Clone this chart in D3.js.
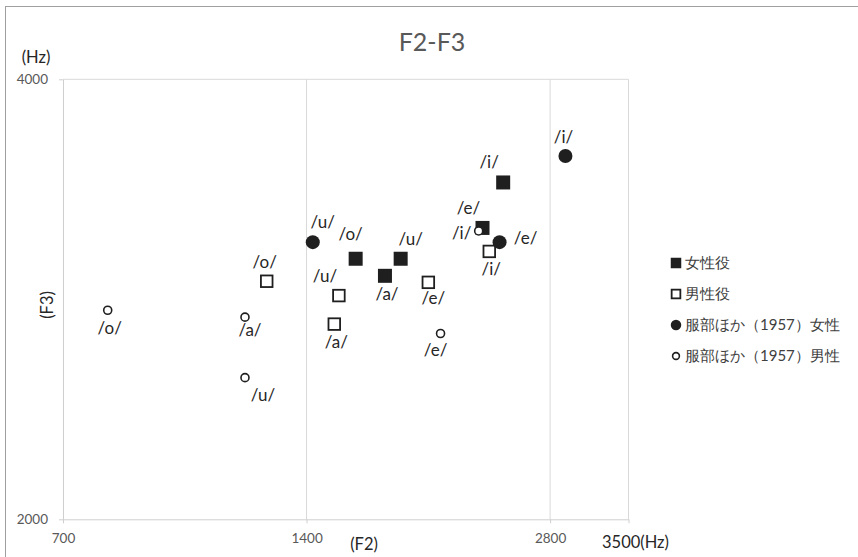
<!DOCTYPE html>
<html>
<head>
<meta charset="utf-8">
<script src="https://cdn.jsdelivr.net/npm/d3@7"></script>
<style>
  body { margin: 0; background: #fff; }
  text { font-family: Lato, "Noto Sans", sans-serif; }
  .axis path, .axis line { stroke: #cfcfcf; }
  .axis text { fill: #595959; font-size: 13.5px; }
</style>
</head>
<body>
<script>
// data (Hz)
const seriesNames = ['女性役', '男性役', '服部ほか（1957）女性', '服部ほか（1957）男性'];

const femaleRoleVowels = ['/i/', '/e/', '/u/', '/o/', '/a/'];
const femaleRoleF2 = [2450, 2310, 1830, 1610, 1750];
const femaleRoleF3 = [3400, 3165, 3015, 3015, 2935];
const femaleRoleLabelPos = ['aboveLeft', 'aboveLeft', 'aboveRight', 'aboveHigh', 'below'];

const maleRoleVowels = ['/i/', '/e/', '/u/', '/a/', '/o/'];
const maleRoleF2 = [2355, 1980, 1535, 1515, 1250];
const maleRoleF3 = [3050, 2905, 2845, 2720, 2910];
const maleRoleLabelPos = ['below', 'belowR', 'aboveLeft', 'below', 'above'];

const hattoriFemaleVowels = ['/i/', '/e/', '/u/'];
const hattoriFemaleF2 = [2925, 2425, 1425];
const hattoriFemaleF3 = [3545, 3095, 3095];
const hattoriFemaleLabelPos = ['above', 'right', 'aboveRight'];

const hattoriMaleVowels = ['/i/', '/e/', '/a/', '/o/', '/u/'];
const hattoriMaleF2 = [2285, 2050, 1175, 795, 1175];
const hattoriMaleF3 = [3150, 2680, 2750, 2780, 2500];
const hattoriMaleLabelPos = ['left', 'belowL', 'belowNear', 'below', 'belowRight'];

const xTicks = [700, 1400, 2800, 3500];
const yTicks = [2000, 4000];

const margin = { top: 79.3, left: 63, right: 229.5, bottom: 37.7 };
const W = 858, H = 557;
const width = W - margin.left - margin.right;
const height = H - margin.top - margin.bottom;

const labelOffsets = {
    above: [-2, -19],
    aboveHigh: [-5, -25],
    below: [2, 18],
    belowR: [5, 16],
    belowL: [-5, 17],
    left: [-17, 2],
    right: [26, -4],
    aboveLeft: [-14, -20],
    aboveRight: [10, -20],
    belowRight: [18, 17],
    belowNear: [5, 13]
};

function zipSeries(vowels, f2, f3, pos) {
    return vowels.map((v, i) => ({ vowel: v, f2: f2[i], f3: f3[i], pos: pos[i] }));
}

const series = [
    zipSeries(femaleRoleVowels, femaleRoleF2, femaleRoleF3, femaleRoleLabelPos),
    zipSeries(maleRoleVowels, maleRoleF2, maleRoleF3, maleRoleLabelPos),
    zipSeries(hattoriFemaleVowels, hattoriFemaleF2, hattoriFemaleF3, hattoriFemaleLabelPos),
    zipSeries(hattoriMaleVowels, hattoriMaleF2, hattoriMaleF3, hattoriMaleLabelPos)
];

const svg = d3.select('body').append('svg')
    .attr('width', W)
    .attr('height', H);

// chart border
svg.append('rect')
    .attr('x', 5.5).attr('y', 6.5)
    .attr('width', W + 20).attr('height', H + 20)
    .attr('fill', 'none')
    .attr('stroke', '#a0a0a0');

const group = svg.append('g')
    .attr('transform', `translate(${margin.left}, ${margin.top})`);

const xscale = d3.scaleLog().base(2).domain([700, 3500]).range([0, width]);
const yscale = d3.scaleLog().base(2).domain([2000, 4000]).range([height, 0]);

// gridlines
group.selectAll('.vgrid').data(xTicks.slice(1)).join('line')
    .attr('class', 'vgrid')
    .attr('x1', (d) => xscale(d)).attr('x2', (d) => xscale(d))
    .attr('y1', 0).attr('y2', height)
    .attr('stroke', '#d9d9d9');
group.selectAll('.hgrid').data(yTicks.slice(1)).join('line')
    .attr('class', 'hgrid')
    .attr('x1', 0).attr('x2', width)
    .attr('y1', (d) => yscale(d)).attr('y2', (d) => yscale(d))
    .attr('stroke', '#d9d9d9');

// axes
const xaxis = d3.axisBottom(xscale).tickValues(xTicks).tickSize(4).tickSizeOuter(0)
    .tickPadding(10).tickFormat((d) => d === 3500 ? '' : d);
group.append('g').attr('class', 'x axis')
    .attr('transform', `translate(0, ${height})`)
    .call(xaxis);

const yaxis = d3.axisLeft(yscale).tickValues(yTicks).tickSize(4).tickSizeOuter(0)
    .tickPadding(11).tickFormat((d) => d);
group.append('g').attr('class', 'y axis').call(yaxis);

// markers
const ink = '#1f1f1f';
function drawMarker(sel, kind, big) {
    const s = big ? 1 : 0.75;
    if (kind === 0) {
        sel.append('rect').attr('x', -7 * s).attr('y', -7 * s)
            .attr('width', 14 * s).attr('height', 14 * s).attr('fill', ink);
    } else if (kind === 1) {
        sel.append('rect').attr('x', -5.8 * s).attr('y', -5.8 * s)
            .attr('width', 11.6 * s).attr('height', 11.6 * s)
            .attr('fill', '#fff').attr('stroke', ink).attr('stroke-width', 1.8);
    } else if (kind === 2) {
        sel.append('circle').attr('r', 7 * s).attr('fill', ink);
    } else {
        sel.append('circle').attr('r', big ? 4 : 3.4)
            .attr('fill', '#fff').attr('stroke', ink).attr('stroke-width', 1.6);
    }
}

series.forEach((pts, k) => {
    const g = group.append('g').attr('class', 'series-' + k);
    g.selectAll('g.pt').data(pts).join('g')
        .attr('class', 'pt')
        .attr('transform', (d) => `translate(${xscale(d.f2)}, ${yscale(d.f3)})`)
        .each(function () { drawMarker(d3.select(this), k, true); });
});

// vowel labels
series.forEach((pts, k) => {
    group.append('g').selectAll('text').data(pts).join('text')
        .attr('x', (d) => xscale(d.f2) + labelOffsets[d.pos][0])
        .attr('y', (d) => yscale(d.f3) + labelOffsets[d.pos][1])
        .attr('text-anchor', 'middle')
        .attr('dy', '0.35em')
        .attr('font-size', '17px')
        .attr('fill', '#262626')
        .text((d) => d.vowel);
});

// titles
svg.append('text')
    .attr('x', 432).attr('y', 42).attr('dy', '0.35em')
    .attr('text-anchor', 'middle')
    .attr('font-size', '25px')
    .attr('fill', '#595959')
    .text('F2-F3');

svg.append('text')
    .attr('x', 36).attr('y', 57).attr('dy', '0.35em')
    .attr('text-anchor', 'middle')
    .attr('font-size', '16.5px').attr('fill', '#262626')
    .text('(Hz)');

svg.append('text')
    .attr('transform', 'translate(47, 305) rotate(-90)')
    .attr('dy', '0.35em')
    .attr('text-anchor', 'middle')
    .attr('font-size', '16.5px').attr('fill', '#262626')
    .text('(F3)');

svg.append('text')
    .attr('x', 364).attr('y', 544).attr('dy', '0.35em')
    .attr('text-anchor', 'middle')
    .attr('font-size', '16.5px').attr('fill', '#262626')
    .text('(F2)');

svg.append('text')
    .attr('x', 602).attr('y', 542).attr('dy', '0.35em')
    .attr('font-size', '16.5px').attr('fill', '#262626')
    .text('3500(Hz)');

// legend
const legend = svg.append('g').attr('transform', 'translate(676, 263)');
const item = legend.selectAll('g').data(seriesNames).join('g')
    .attr('transform', (d, i) => `translate(0, ${i * 31})`);
item.each(function (d, i) { drawMarker(d3.select(this), i, false); });
item.append('text')
    .attr('x', 9).attr('dy', '0.35em')
    .attr('font-size', '15px')
    .attr('font-family', '"Noto Sans CJK JP", sans-serif')
    .attr('fill', '#404040')
    .text((d) => d);
</script>
</body>
</html>
